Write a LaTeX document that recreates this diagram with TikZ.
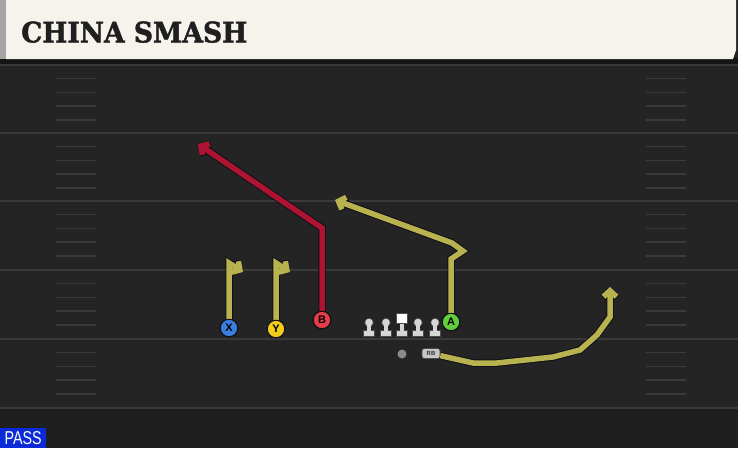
\documentclass[tikz,border=0pt]{standalone}
\usepackage{fontspec}
\setsansfont{Liberation Sans}
\newfontfamily\titlefont{DejaVu Serif}[FakeBold=1.6]
\usetikzlibrary{arrows.meta}
\definecolor{bg}{HTML}{242424}
\definecolor{bgdark}{HTML}{1F1F1F}
\definecolor{hdr}{HTML}{F5F3EC}
\definecolor{hdrstrip}{HTML}{A5A5A5}
\definecolor{shadow}{HTML}{151515}
\definecolor{yard}{HTML}{3A3A3A}
\definecolor{hash}{HTML}{3A3A3A}
\definecolor{routey}{HTML}{B8B34E}
\definecolor{router}{HTML}{AE1431}
\definecolor{outl}{HTML}{101018}
\definecolor{xblue}{HTML}{3C7EE0}
\definecolor{yyel}{HTML}{F3CB1C}
\definecolor{bred}{HTML}{E53E48}
\definecolor{agreen}{HTML}{5FD03C}
\definecolor{linefill}{HTML}{D6D6D6}
\definecolor{passblue}{HTML}{0B2BD8}
\tikzset{
  yardline/.style={draw=yard, line width=2pt},
  hashline/.style={draw=hash, line width=1.5pt},
  player/.style={circle, minimum size=17.5pt, inner sep=0pt, draw=outl, line width=1pt,
    font=\sffamily\bfseries\fontsize{11}{11}\selectfont, text=black},
  route/.style={draw=routey, line width=5.5pt, line join=miter, line cap=butt,
    -{Straight Barb[length=6pt,width=13pt]},
    preaction={draw=outl, line width=7.5pt, -{Straight Barb[length=6pt,width=13pt]}}},
  redroute/.style={route, draw=router},
  lineman/.pic={
    \fill[linefill, draw=black!70, line width=0.5pt] (-5.5,12.5) rectangle (5.5,18);
    \fill[linefill] (-1.8,4) rectangle (1.8,13);
    \fill[linefill, draw=black!70, line width=0.5pt] (0,4.5) circle (4.2pt);
    \fill[linefill] (-1.8,6) rectangle (1.8,13);
  },
  centerman/.pic={
    \fill[linefill, draw=black!70, line width=0.5pt] (-5.5,12.5) rectangle (5.5,18);
    \fill[linefill] (-1.8,4) rectangle (1.8,13);
    \fill[white, draw=black!70, line width=0.5pt] (-5.5,-5) rectangle (5.5,5);
  },
}
\begin{document}
\begin{tikzpicture}[x=1pt, y=-1pt]
\useasboundingbox (0,0) rectangle (738,448);
% background
\fill[bg] (0,0) rectangle (738,448);
\fill[bgdark] (0,409) rectangle (738,448);
% header
\fill[shadow] (0,58) rectangle (738,64);
\fill[hdr] (6,0) -- (736,0) -- (736,50) -- (733,59) -- (6,59) -- cycle;
\fill[hdrstrip] (0,0) rectangle (6,59);
\node[anchor=south west, inner sep=0pt, text=black!88] (title) at (21,43)
  {\resizebox{226pt}{21pt}{\titlefont\bfseries CHINA SMASH}};
% yard lines
\foreach \y in {65,133,201,270,339,408} {
  \draw[yardline] (0,\y) -- (738,\y);
}
% hash marks
\foreach \l in {65,133,201,270,339} {
  \foreach \k in {1,2,3,4} {
    \draw[hashline] (56,\l+13.7*\k) -- (96,\l+13.7*\k);
    \draw[hashline] (646,\l+13.7*\k) -- (686,\l+13.7*\k);
  }
}
% players
\node[player, fill=xblue] (X) at (229,328) {X};
\node[player, fill=yyel] (Y) at (276,329) {Y};
\node[player, fill=bred] (B) at (322,320) {B};
\node[player, fill=agreen] (A) at (451,322) {A};
\node[circle, fill=black!45, minimum size=9pt, inner sep=0pt] (QB) at (402,354) {};
\node[rounded corners=2.5pt, fill=black!22, draw=black!70, line width=0.6pt,
  minimum width=18pt, minimum height=10pt, inner sep=0pt,
  font=\sffamily\bfseries\fontsize{6}{6}\selectfont, text=black!80] (RB) at (431,353.5) {RB};
% linemen
\pic at (369,318) {lineman};
\pic at (386,318) {lineman};
\pic at (402,318) {centerman};
\pic at (418,318) {lineman};
\pic at (435,318) {lineman};
% route points
\coordinate (x1) at (229,263);
\coordinate (x2) at (243,272);
\coordinate (y1) at (276,263);
\coordinate (y2) at (290,272);
\coordinate (b1) at (322,228);
\coordinate (b2) at (198,144);
\coordinate (a1) at (451,259);
\coordinate (a2) at (463,251);
\coordinate (a3) at (452,243);
\coordinate (a4) at (335,200);
\coordinate (r1) at (473,363);
\coordinate (r2) at (497,363);
\coordinate (r3) at (553,357);
\coordinate (r4) at (580,350);
\coordinate (r5) at (597,335);
\coordinate (r6) at (610,317);
\coordinate (r7) at (610,287);
% routes
\draw[route] (X) -- (x1) -- (x2);
\draw[route] (Y) -- (y1) -- (y2);
\draw[redroute] (B) -- (b1) -- (b2);
\draw[route] (A) -- (a1) -- (a2) -- (a3) -- (a4);
\draw[route] (RB) -- (r1) -- (r2) -- (r3) -- (r4) -- (r5) -- (r6) -- (r7);
% redraw players on top
\node[player, fill=xblue] at (X) {X};
\node[player, fill=yyel] at (Y) {Y};
\node[player, fill=bred] at (B) {B};
\node[player, fill=agreen] at (A) {A};
% pass label
\node[fill=passblue, anchor=south west, minimum width=46pt, minimum height=20pt, inner sep=0pt,
  text=white] (pass) at (0,448) {\resizebox{37pt}{13pt}{\sffamily PASS}};
\end{tikzpicture}
\end{document}
